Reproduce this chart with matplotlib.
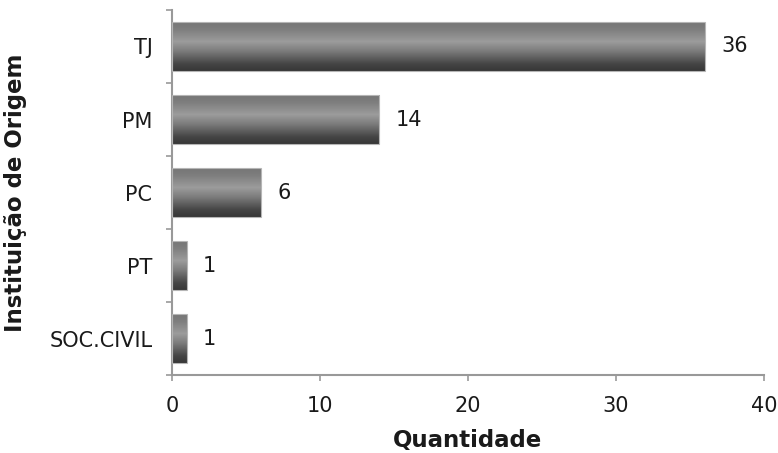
import matplotlib
matplotlib.use("Agg")
import matplotlib.pyplot as plt
import numpy as np
from matplotlib.colors import LinearSegmentedColormap

categories = ["TJ", "PM", "PC", "PT", "SOC.CIVIL"]
values = [36, 14, 6, 1, 1]
x_ticks = [0, 10, 20, 30, 40]

plt.rcParams["font.family"] = ["DejaVu Sans"]

fig = plt.figure(figsize=(7.78, 4.53), dpi=100)
ax = fig.add_axes([0.221, 0.172, 0.761, 0.806])

n = len(categories)
ypos = np.arange(n)[::-1]  # TJ at top
bar_h = 0.66

bars = ax.barh(ypos, values, height=bar_h, color="none", edgecolor="#b5b5b5", linewidth=0.8, zorder=3)

# vertical grey gradient inside each bar
cmap = LinearSegmentedColormap.from_list(
    "steel",
    [(0.0, "#767676"), (0.15, "#7e7e7e"), (0.4, "#9c9c9c"), (0.6, "#7a7a7a"),
     (0.85, "#464646"), (1.0, "#363636")])
grad = np.linspace(0, 1, 256).reshape(-1, 1)
for b in bars:
    x0, y0 = b.get_x(), b.get_y()
    w, h = b.get_width(), b.get_height()
    im = ax.imshow(grad, cmap=cmap, aspect="auto", origin="upper",
                   extent=[x0, x0 + w, y0, y0 + h], zorder=2, interpolation="bilinear")
    im.set_clip_path(b)

for y, v in zip(ypos, values):
    ax.text(v + 1.1, y, str(v), va="center", ha="left", fontsize=15, color="#1a1a1a")

ax.set_xlim(0, 40)
ax.set_ylim(-0.5, n - 0.5)
ax.set_xticks(x_ticks)
ax.set_xticklabels([str(t) for t in x_ticks], fontsize=15, color="#1a1a1a")
ax.set_yticks(ypos)
ax.set_yticklabels(categories, fontsize=15, color="#1a1a1a")
ax.tick_params(axis="y", length=0, pad=14)
ax.set_yticks(np.arange(-0.5, n, 1.0), minor=True)
ax.tick_params(axis="y", which="minor", length=4, width=1.2, color="#999999", direction="out")
ax.tick_params(axis="x", length=4, width=1.2, color="#999999", direction="out", pad=11)

for s in ["top", "right"]:
    ax.spines[s].set_visible(False)
for s in ["left", "bottom"]:
    ax.spines[s].set_color("#999999")
    ax.spines[s].set_linewidth(1.5)

ax.set_xlabel("Quantidade", fontsize=16.5, fontweight="bold", va="top", color="#1a1a1a")
ax.set_ylabel("Instituição de Origem", fontsize=16.5, fontweight="bold", color="#1a1a1a")
ax.xaxis.set_label_coords(0.5, -0.148)
ax.yaxis.set_label_coords(-0.245, 0.5)

fig.savefig("out.png", dpi=100)
